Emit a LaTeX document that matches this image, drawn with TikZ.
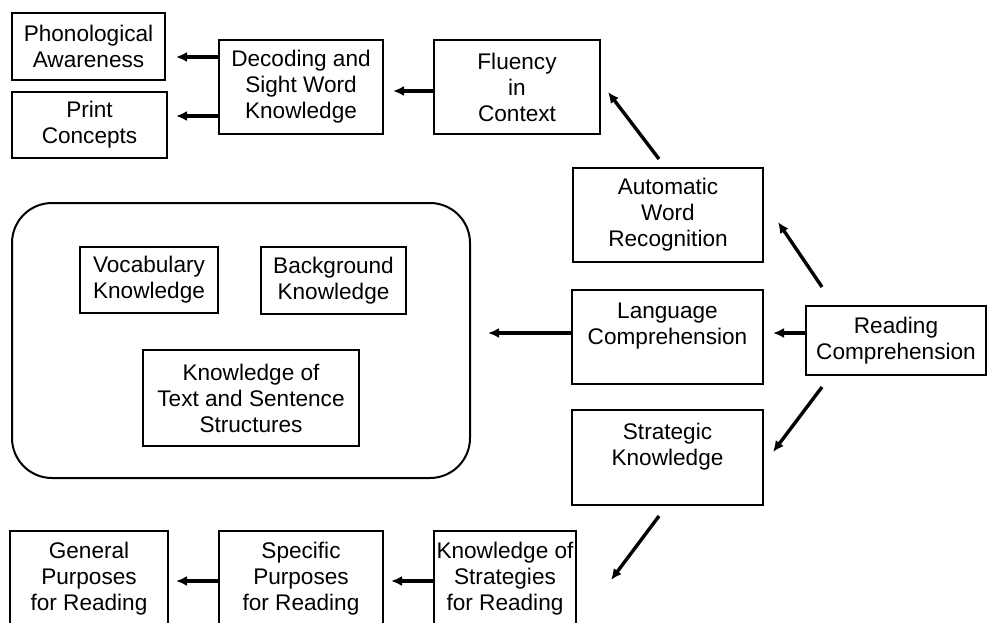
\documentclass[tikz,border=0pt]{standalone}
\usepackage{fontspec}
\setmainfont{Liberation Sans}
\usetikzlibrary{positioning}
\usetikzlibrary{arrows.meta}
\tikzset{box/.style={draw, line width=2pt, align=center, inner sep=0pt, font=\fontsize{22.6}{26}\selectfont}}
\tikzset{arr/.style={line width=3.4pt, -{Latex[length=11pt,width=10pt]}}}

\begin{document}
\begin{tikzpicture}[x=1pt,y=-1pt]
\useasboundingbox (0,0) rectangle (987,623);
\clip (0,0) rectangle (987,623);
% top row
\node[box, minimum width=153pt, minimum height=67pt] (phon) at (88.5,46.5) {Phonological\\Awareness};
\node[box, minimum width=155pt, minimum height=66pt] (print) at (89.5,125) {Print\\Concepts};
\node[box, minimum width=164pt, minimum height=94pt] (dec) at (301,87) {Decoding and\\Sight Word\\Knowledge};
\node[box, minimum width=166pt, minimum height=94pt] (flu) at (517,87) {Fluency\\in\\Context};
% middle column
\node[box, minimum width=190pt, minimum height=94pt] (auto) at (668,215) {Automatic\\Word\\Recognition};
\node[box, minimum width=191pt, minimum height=94pt] (lang) at (667.5,337) {Language\\Comprehension\\\mbox{}};
\node[box, minimum width=191pt, minimum height=95pt] (strat) at (667.5,457.5) {Strategic\\Knowledge\\\mbox{}};
\node[box, minimum width=180pt, minimum height=69pt] (read) at (896,340.5) {Reading\\Comprehension};
% knowledge group
\node[draw, line width=2pt, rounded corners=40pt, minimum width=458pt, minimum height=275pt] (know) at (241,340.5) {};
\node[box, minimum width=138pt, minimum height=66pt] (vocab) at (149,280) {Vocabulary\\Knowledge};
\node[box, minimum width=145pt, minimum height=67pt] (backg) at (333.5,280.5) {Background\\Knowledge};
\node[box, minimum width=216pt, minimum height=96pt] (tss) at (251,398) {Knowledge of\\Text and Sentence\\Structures};
% bottom row
\node[box, minimum width=142pt, minimum height=96pt] (kos) at (505,579) {Knowledge of\\Strategies\\for Reading};
\node[box, minimum width=164pt, minimum height=96pt] (spec) at (301,579) {Specific\\Purposes\\for Reading};
\node[box, minimum width=158pt, minimum height=96pt] (gen) at (89,579) {General\\Purposes\\for Reading};
% arrows
\draw[arr, shorten >=10pt] ([yshift=30pt]dec.west) -- ([yshift=30pt]dec.west -| phon.east);
\draw[arr, shorten >=8pt] ([yshift=-29pt]dec.west) -- ([yshift=-29pt]dec.west -| print.east);
\draw[arr, shorten >=9pt] ([yshift=-4pt]flu.west) -- ([yshift=-4pt]flu.west -| dec.east);
\draw[arr] ([shift={(-9pt,8pt)}]auto.north) -- ([shift={(7pt,-5pt)}]flu.east);
\draw[arr] ([shift={(17pt,18pt)}]read.north west) -- ([shift={(14pt,-7pt)}]auto.east);
\draw[arr, shorten >=9pt] ([yshift=7.5pt]read.west) -- ([yshift=7.5pt]read.west -| lang.east);
\draw[arr, shorten >=17pt] ([yshift=4pt]lang.west) -- ([yshift=4pt]lang.west -| know.east);
\draw[arr] ([shift={(17pt,-11pt)}]read.south west) -- ([shift={(9pt,5.5pt)}]strat.east);
\draw[arr] ([shift={(-8.5pt,-10pt)}]strat.south) -- ([shift={(34pt,-1pt)}]kos.east);
\draw[arr, shorten >=7pt] ([yshift=-2pt]kos.west) -- ([yshift=-2pt]kos.west -| spec.east);
\draw[arr, shorten >=7pt] ([yshift=-2pt]spec.west) -- ([yshift=-2pt]spec.west -| gen.east);
\end{tikzpicture}
\end{document}
